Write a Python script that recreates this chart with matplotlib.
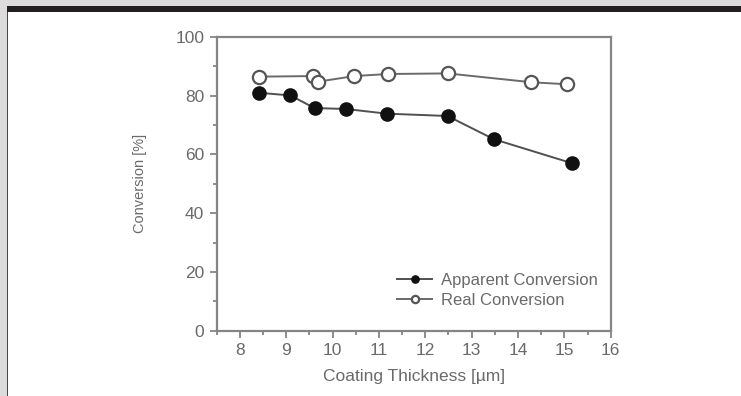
import matplotlib
matplotlib.use("Agg")
import matplotlib.pyplot as plt
from matplotlib.patches import Rectangle
from matplotlib.ticker import MultipleLocator

plt.rcParams['font.family'] = ['Liberation Sans', 'DejaVu Sans']

# Coating thickness [um] and measured conversion [%]
apparent_thickness = [8.42, 9.09, 9.61, 10.28, 11.17, 12.48, 13.48, 15.17]
apparent_conversion = [81.0, 80.1, 75.8, 75.5, 73.9, 73.1, 65.2, 57.0]

real_thickness = [8.42, 9.58, 9.69, 10.47, 11.19, 12.48, 14.29, 15.06]
real_conversion = [86.5, 86.7, 84.8, 86.7, 87.4, 87.6, 84.6, 83.9]

W, H = 741, 396
fig = plt.figure(figsize=(W / 100, H / 100), dpi=100)
fig.patch.set_facecolor('#dcdcdc')

# page frame: dark band on top, white panel with a dark left edge
fig.add_artist(Rectangle((7 / W, 0), 1, (H - 12) / H, transform=fig.transFigure,
                         facecolor='white', edgecolor='none', zorder=0))
fig.add_artist(Rectangle((7 / W, (H - 12) / H), 1, 6 / H, transform=fig.transFigure,
                         facecolor='#231f20', edgecolor='none', zorder=0))
fig.add_artist(Rectangle((7 / W, 0), 1.2 / W, (H - 12) / H, transform=fig.transFigure,
                         facecolor='#4a4a4a', edgecolor='none', zorder=0))

ax = fig.add_axes([216.7 / W, (H - 330.7) / H, 394 / W, 293.7 / H])
ax.set_facecolor('white')

ax.plot(apparent_thickness, apparent_conversion, color='#505050', lw=1.4,
        marker='o', ms=9.5, mfc='#111111', mec='#111111', zorder=3,
        label='Apparent Conversion')
ax.plot(real_thickness, real_conversion, color='#6a6a6a', lw=1.4,
        marker='o', ms=9.5, mfc='white', mec='#555555', mew=1.6, zorder=3,
        label='Real Conversion')

ax.set_xlim(7.5, 16)
ax.set_ylim(0, 100)
ax.xaxis.set_major_locator(MultipleLocator(1))
ax.xaxis.set_minor_locator(MultipleLocator(0.5))
ax.yaxis.set_major_locator(MultipleLocator(20))
ax.yaxis.set_minor_locator(MultipleLocator(10))
ax.set_xticks(range(8, 17))

for side in ax.spines.values():
    side.set_color('#858585')
    side.set_linewidth(1.6)

ax.tick_params(which='both', direction='out', color='#858585', width=1.3,
               labelcolor='#6a6a6a', labelsize=12.5, top=False, right=False)
ax.tick_params(which='major', length=5, pad=4)
ax.tick_params(which='minor', length=3)

ax.set_xlabel('Coating Thickness [\u00b5m]', fontsize=12.5, color='#6a6a6a', labelpad=8)
ax.set_ylabel('Conversion [%]', fontsize=10.5, color='#6a6a6a', labelpad=20)

leg = ax.legend(loc='center right', bbox_to_anchor=(1.005, 0.137), frameon=False,
                fontsize=12, markerscale=0.55, handlelength=2.1,
                handletextpad=0.5, labelspacing=0.3)
for t in leg.get_texts():
    t.set_color('#6a6a6a')

fig.savefig('out.png', dpi=100, facecolor=fig.get_facecolor())
